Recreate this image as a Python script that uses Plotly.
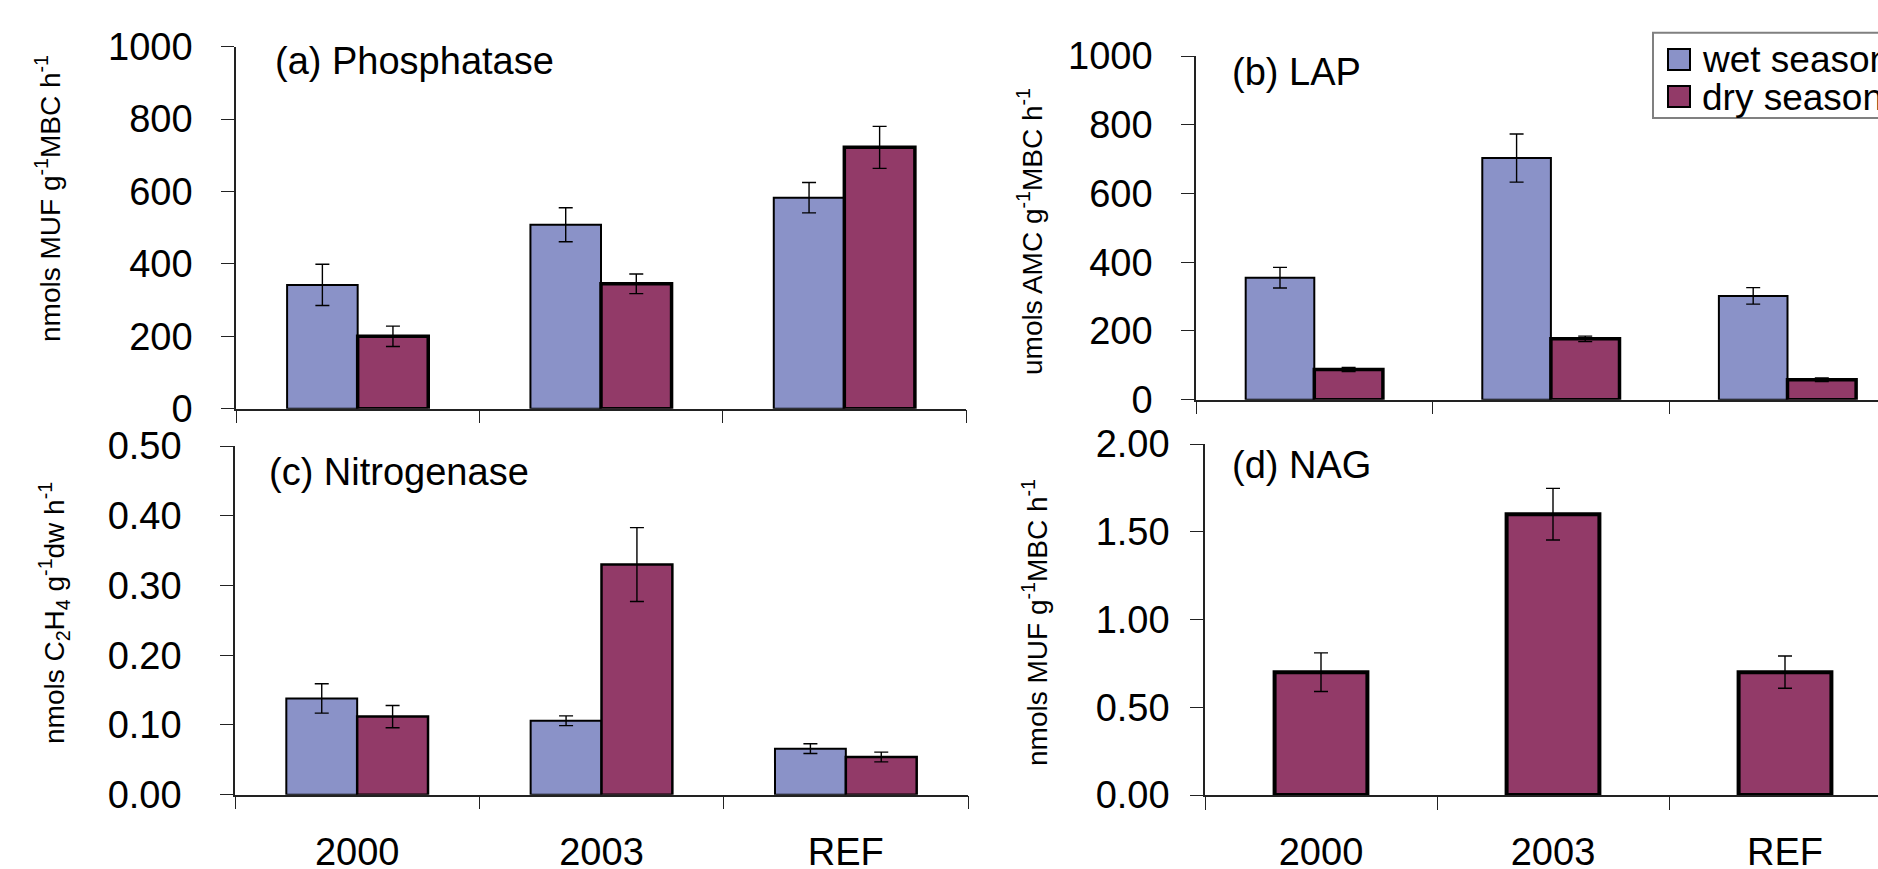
import plotly.graph_objects as go

W, H = 1878, 869

categories = ["2000", "2003", "REF"]

phos_wet = [342, 508, 583]
phos_wet_err = [57, 47, 42]
phos_dry = [200, 345, 722]
phos_dry_err = [28, 27, 58]

lap_wet = [355, 703, 302]
lap_wet_err = [30, 70, 24]
lap_dry = [88, 177, 58]
lap_dry_err = [6, 8, 5]

nit_wet = [0.138, 0.106, 0.066]
nit_wet_err = [0.021, 0.007, 0.007]
nit_dry = [0.112, 0.330, 0.054]
nit_dry_err = [0.016, 0.053, 0.007]

nag_dry = [0.70, 1.60, 0.70]
nag_dry_err = [0.11, 0.147, 0.092]

series_names = ["wet season", "dry season"]

WET = "#8A92C8"
DRY = "#923A68"
FONT = "Liberation Sans, Arial, sans-serif"


def px_x(p):
    return p / W


def px_y(p):
    return 1 - p / H


def bar(x, y, err, color, lw, offset, width, xa, ya, name):
    return go.Bar(
        x=x, y=y, name=name, showlegend=False,
        marker=dict(color=color, line=dict(color="black", width=lw)),
        error_y=dict(type="data", array=err, visible=True, color="black",
                     thickness=1.4, width=7),
        offset=offset, width=width, xaxis=xa, yaxis=ya,
    )


fig = go.Figure()
BW = 0.29
# (a)
fig.add_trace(bar(categories, phos_wet, phos_wet_err, WET, 2, -BW, BW, "x", "y", series_names[0]))
fig.add_trace(bar(categories, phos_dry, phos_dry_err, DRY, 3.5, 0, BW, "x", "y", series_names[1]))
# (b)
fig.add_trace(bar(categories, lap_wet, lap_wet_err, WET, 2, -BW, BW, "x2", "y2", series_names[0]))
fig.add_trace(bar(categories, lap_dry, lap_dry_err, DRY, 3.5, 0, BW, "x2", "y2", series_names[1]))
# (c)
fig.add_trace(bar(categories, nit_wet, nit_wet_err, WET, 2, -BW, BW, "x3", "y3", series_names[0]))
fig.add_trace(bar(categories, nit_dry, nit_dry_err, DRY, 2.5, 0, BW, "x3", "y3", series_names[1]))
# (d)
fig.add_trace(bar(categories, nag_dry, nag_dry_err, DRY, 4, -0.2, 0.4, "x4", "y4", series_names[1]))

axis_common = dict(showline=True, linecolor="#222", linewidth=1.5, ticks="outside",
                   ticklen=13, tickcolor="#222", tickwidth=1.3, showgrid=False,
                   zeroline=False, tickfont=dict(family=FONT, size=38, color="black"))

xcat = dict(axis_common, type="category", tickson="boundaries", categoryorder="array",
            categoryarray=categories)

catfont = dict(family=FONT, size=38, color="black")

fig.update_layout(
    width=W, height=H,
    margin=dict(l=0, r=0, t=0, b=0, autoexpand=False),
    paper_bgcolor="white", plot_bgcolor="white",
    barmode="overlay",
    showlegend=False,
    xaxis=dict(xcat, domain=[px_x(236), px_x(966)], range=[-0.5, 2.5],
               anchor="y", showticklabels=False),
    yaxis=dict(axis_common, domain=[px_y(408.7), px_y(46.7)], range=[0, 1000],
               dtick=200, anchor="x", ticklabelstandoff=21),
    xaxis2=dict(xcat, domain=[px_x(1196), 1.0], range=[-0.5, -0.5 + (W - 1196) / 236.6],
                anchor="y2", showticklabels=False),
    yaxis2=dict(axis_common, domain=[px_y(399.7), px_y(56)], range=[0, 1000],
                dtick=200, anchor="x2", ticklabelstandoff=21),
    xaxis3=dict(xcat, domain=[px_x(235), px_x(968)], range=[-0.5, 2.5], anchor="y3",
                ticklabelstandoff=23, tickfont=catfont),
    yaxis3=dict(axis_common, domain=[px_y(794.7), px_y(446)], range=[0, 0.5],
                dtick=0.1, tickformat=".2f", anchor="x3", ticklabelstandoff=31),
    xaxis4=dict(xcat, domain=[px_x(1205), 1.0], range=[-0.5, -0.5 + (W - 1205) / 232.0],
                anchor="y4", ticklabelstandoff=23, tickfont=catfont),
    yaxis4=dict(axis_common, domain=[px_y(795), px_y(444)], range=[0, 2.0],
                dtick=0.5, tickformat=".2f", anchor="x4", ticklabelstandoff=13),
)

# panel labels
panel_labels = [("(a) Phosphatase", 273, 61), ("(b) LAP", 1230, 72),
                ("(c) Nitrogenase", 267, 472), ("(d) NAG", 1230, 465)]
for txt, x, y in panel_labels:
    fig.add_annotation(text=txt, x=px_x(x), y=px_y(y), xref="paper", yref="paper",
                       xanchor="left", yanchor="middle", showarrow=False,
                       font=dict(family=FONT, size=38, color="black"))

# y axis titles
ytitles = [("nmols MUF g<sup>-1</sup>MBC h<sup>-1</sup>", 48, 199),
           ("umols AMC g<sup>-1</sup>MBC h<sup>-1</sup>", 1030, 232),
           ("nmols C<sub>2</sub>H<sub>4</sub> g<sup>-1</sup>dw h<sup>-1</sup>", 54, 613),
           ("nmols MUF g<sup>-1</sup>MBC h<sup>-1</sup>", 1035, 623)]
for txt, x, y in ytitles:
    fig.add_annotation(text=txt, x=px_x(x), y=px_y(y), xref="paper", yref="paper",
                       xanchor="center", yanchor="middle", showarrow=False, textangle=-90,
                       font=dict(family=FONT, size=28, color="black"))

# legend (box clipped by right edge as in the original)
fig.add_shape(type="rect", xref="paper", yref="paper", x0=px_x(1653), x1=px_x(1960),
              y0=px_y(118), y1=px_y(32.7), line=dict(color="#808080", width=2),
              fillcolor="rgba(0,0,0,0)")
legend_items = [(series_names[0], WET, 49, 70, 60), (series_names[1], DRY, 86, 107, 97)]
for name, col, y0, y1, yc in legend_items:
    fig.add_shape(type="rect", xref="paper", yref="paper", x0=px_x(1668), x1=px_x(1690),
                  y0=px_y(y1), y1=px_y(y0), line=dict(color="black", width=2), fillcolor=col)
    fig.add_annotation(text=name, x=px_x(1700), y=px_y(yc), xref="paper", yref="paper",
                       xanchor="left", yanchor="middle", showarrow=False,
                       font=dict(family=FONT, size=37, color="black"))

fig.write_html("out.html", config={"displayModeBar": False},
               post_script="document.body.style.margin='0';document.body.style.overflow='hidden';")
